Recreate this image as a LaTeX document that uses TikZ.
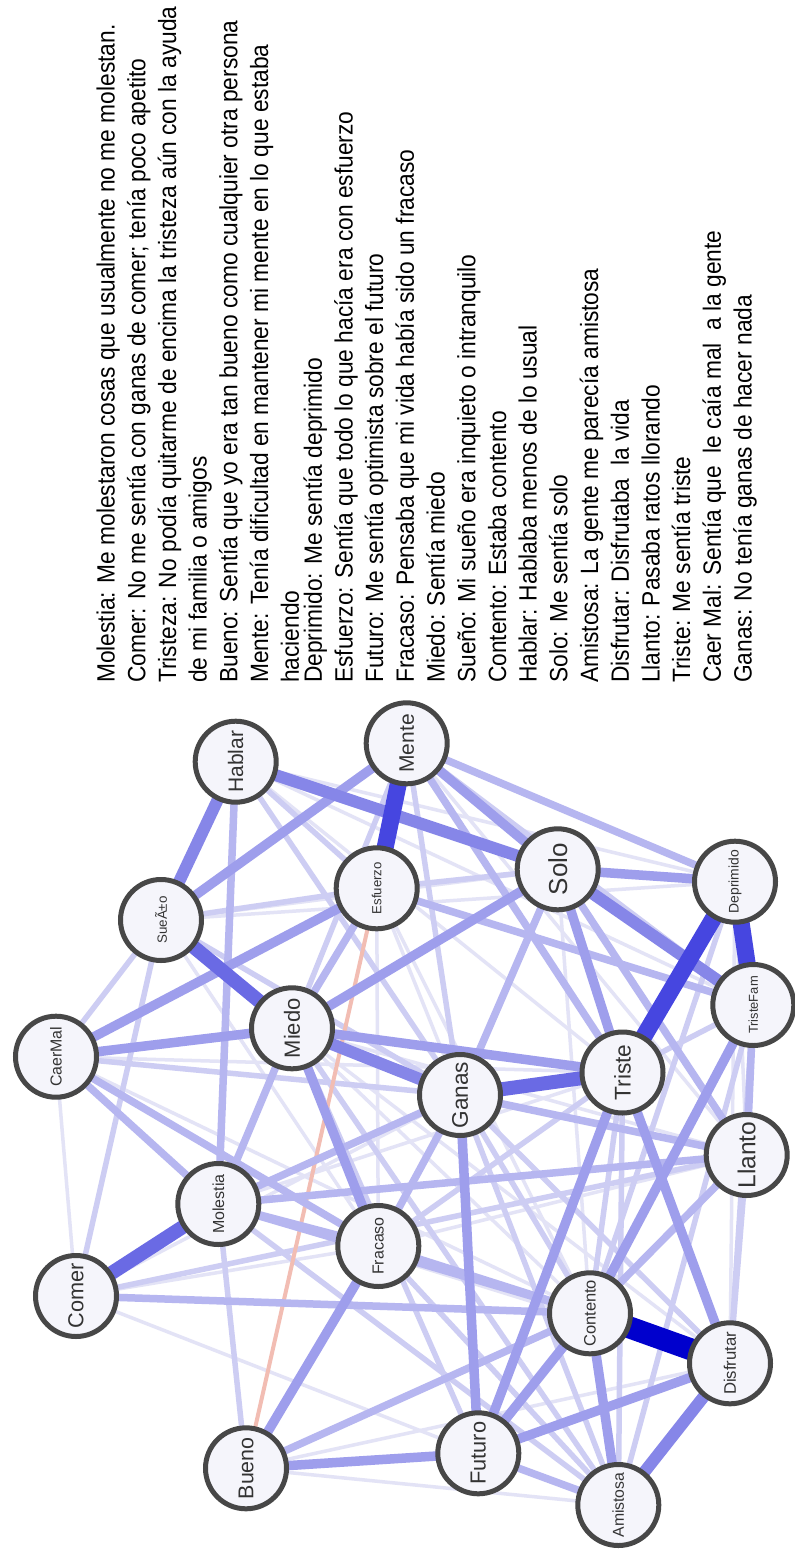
\documentclass[tikz,border=0pt]{standalone}
\usepackage{fontspec}
\setmainfont{Liberation Sans}
\newfontfamily\txtfont[FakeStretch=0.91]{Liberation Sans}
\usetikzlibrary{backgrounds}
\definecolor{nodefill}{HTML}{F5F5FB}
\definecolor{nodeborder}{HTML}{474747}
\definecolor{ca}{HTML}{E3E3F6}
\definecolor{cb}{HTML}{CDCDF3}
\definecolor{cc}{HTML}{B6B6F0}
\definecolor{cd}{HTML}{9E9EEC}
\definecolor{ce}{HTML}{8686E8}
\definecolor{cf}{HTML}{6A6AE4}
\definecolor{cg}{HTML}{4646E0}
\definecolor{ch}{HTML}{0000CD}
\definecolor{cneg}{HTML}{F2BDB3}
\tikzset{
  vtx/.style={circle, draw=nodeborder, line width=5pt, fill=nodefill,
    minimum size=81pt, inner sep=0pt, text=black!80, rotate=90,
    font=\fontsize{#1}{#1}\selectfont},
  txt/.style={font=\txtfont\fontsize{25}{29}\selectfont, rotate=90,
    anchor=base west, inner sep=0pt, text=black},
  ea/.style={draw=ca, line width=3.5pt},
  eb/.style={draw=cb, line width=5.5pt},
  ec/.style={draw=cc, line width=7.5pt},
  ed/.style={draw=cd, line width=9.5pt},
  ee/.style={draw=ce, line width=12pt},
  ef/.style={draw=cf, line width=14pt},
  eg/.style={draw=cg, line width=17pt},
  eh/.style={draw=ch, line width=22pt},
  eneg/.style={draw=cneg, line width=4pt},
}
\begin{document}
\begin{tikzpicture}[x=1pt, y=-1pt]
\useasboundingbox (0,0) rectangle (795,1550);

% ---- text block ----
\node[txt] (t1)  at (114.6,683) {Molestia: Me molestaron cosas que usualmente no me molestan.};
\node[txt] (t2)  at (145.3,683) {Comer: No me sentía con ganas de comer; tenía poco apetito};
\node[txt] (t3)  at (176.0,683) {Tristeza: No podía quitarme de encima la tristeza aún con la ayuda};
\node[txt] (t4)  at (206.7,683) {de mi familia o amigos};
\node[txt] (t5)  at (237.4,683) {Bueno: Sentía que yo era tan bueno como cualquier otra persona};
\node[txt] (t6)  at (268.1,683) {Mente: Tenía dificultad en mantener mi mente en lo que estaba};
\node[txt] (t7)  at (298.8,683) {haciendo};
\node[txt] (t8)  at (321.8,683) {Deprimido: Me sentía deprimido};
\node[txt] (t9)  at (352.5,683) {Esfuerzo: Sentía que todo lo que hacía era con esfuerzo};
\node[txt] (t10) at (383.2,683) {Futuro: Me sentía optimista sobre el futuro};
\node[txt] (t11) at (413.9,683) {Fracaso: Pensaba que mi vida había sido un fracaso};
\node[txt] (t12) at (444.6,683) {Miedo: Sentía miedo};
\node[txt] (t13) at (475.3,683) {Sueño: Mi sueño era inquieto o intranquilo};
\node[txt] (t14) at (506.0,683) {Contento: Estaba contento};
\node[txt] (t15) at (536.7,683) {Hablar: Hablaba menos de lo usual};
\node[txt] (t16) at (567.4,683) {Solo: Me sentía solo};
\node[txt] (t17) at (598.1,683) {Amistosa: La gente me parecía amistosa};
\node[txt] (t18) at (628.8,683) {Disfrutar: Disfrutaba~ la vida};
\node[txt] (t19) at (659.5,683) {Llanto: Pasaba ratos llorando};
\node[txt] (t20) at (690.2,683) {Triste: Me sentía triste};
\node[txt] (t21) at (720.9,683) {Caer Mal: Sentía que~ le caía mal~ a la gente};
\node[txt] (t22) at (751.6,683) {Ganas: No tenía ganas de hacer nada};

% ---- nodes ----
\node[vtx=21]   (hab) at (235.7,761.7)  {Hablar};
\node[vtx=21]   (men) at (406.7,743.3)  {Mente};
\node[vtx=13.4] (sue) at (161,920)      {SueÃ±o};
\node[vtx=13.2] (esf) at (376.7,888.3)  {Esfuerzo};
\node[vtx=22]   (mie) at (292,1028.3)   {Miedo};
\node[vtx=15.9] (cae) at (56,1056.7)    {CaerMal};
\node[vtx=16]   (mol) at (218.3,1204)   {Molestia};
\node[vtx=21.7] (com) at (76,1296)      {Comer};
\node[vtx=16]   (fra) at (378.3,1246)   {Fracaso};
\node[vtx=21.4] (bue) at (246,1468.3)   {Bueno};
\node[vtx=26]   (sol) at (557.7,869.3)  {Solo};
\node[vtx=13.9] (dep) at (735,881.7)    {Deprimido};
\node[vtx=12.9] (tfa) at (753.3,1005)   {TristeFam};
\node[vtx=22.7] (tri) at (622.5,1072.5) {Triste};
\node[vtx=22.6] (gan) at (460,1095)     {Ganas};
\node[vtx=24.5] (lla) at (746.7,1155)   {Llanto};
\node[vtx=16.5] (con) at (590,1313.3)   {Contento};
\node[vtx=16.7] (dis) at (730,1363.3)   {Disfrutar};
\node[vtx=21.8] (fut) at (478.3,1453.3) {Futuro};
\node[vtx=15.8] (ami) at (618.3,1505)   {Amistosa};

% ---- edges ----
\begin{pgfonlayer}{background}
\fill[white] (0,0) rectangle (795,1550);
\foreach \a/\b in {cae/com, hab/tri, sue/sol, esf/gan, esf/fra, mol/tri, mol/dis, com/fra,
  cae/tri, dep/lla, fra/lla, mie/con, sue/dep, hab/tfa, mie/lla, fra/dis, com/gan, men/lla,
  cae/con, sue/fra, hab/dep, esf/con, bue/ami, bue/dis, com/fut, mie/dis, sol/con, dep/dis}
  \draw[ea] (\a.center) -- (\b.center);
\foreach \a/\b in {hab/gan, men/gan, com/sue, cae/sue, bue/mol, sue/gan, com/lla, mol/ami,
  lla/dis, fra/tri, gan/dis, gan/ami, tri/con, tfa/ami, dep/con, mie/ami, fra/ami, tri/tfa,
  sue/esf, men/mie, esf/sol, cae/gan, hab/esf, tfa/dis, men/tfa, gan/con, tri/ami, mie/fut}
  \draw[eb] (\a.center) -- (\b.center);
\draw[eneg] (bue.center) -- (esf.center);
\foreach \a/\b in {mol/fra, mol/gan, mol/lla, mie/mol, mie/esf, fra/gan, fra/con, sol/gan,
  sol/lla, gan/lla, men/tri, esf/tfa, tfa/lla, fut/ami, lla/con, bue/con, com/con, cae/mol,
  cae/fra, hab/mol, men/dep, mol/con}
  \draw[ec] (\a.center) -- (\b.center);
\foreach \a/\b in {mie/tri, mie/fra, mie/sol, cae/mie, sol/dep, sol/tri, fut/dis, fut/con,
  bue/fut, bue/fra, fut/tri, fut/gan, tri/dis, tfa/con, sue/men, cae/esf, men/sol, con/ami}
  \draw[ed] (\a.center) -- (\b.center);
\foreach \a/\b in {hab/sol, mie/gan, sol/tfa, dis/ami, hab/sue}
  \draw[ee] (\a.center) -- (\b.center);
\foreach \a/\b in {com/mol, sue/mie, gan/tri}
  \draw[ef] (\a.center) -- (\b.center);
\foreach \a/\b in {men/esf, tri/dep, dep/tfa}
  \draw[eg] (\a.center) -- (\b.center);
\draw[eh] (con.center) -- (dis.center);
\end{pgfonlayer}
\end{tikzpicture}
\end{document}
